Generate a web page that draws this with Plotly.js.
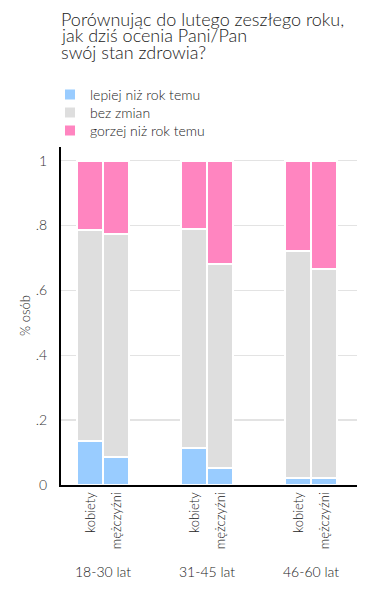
<!DOCTYPE html>
<html>
<head>
<meta charset="utf-8">
<script src="https://cdn.plot.ly/plotly-3.0.1.min.js"></script>
<style>html,body{margin:0;padding:0;background:#fff;}#chart{width:370px;height:591px;}</style>
</head>
<body>
<div id="chart"></div>
<script>
const titleLines = ["Porównując do lutego zeszłego roku,", "jak dziś ocenia Pani/Pan", "swój stan zdrowia?"];
const groups = ["18-30 lat", "31-45 lat", "46-60 lat"];
const sexes = ["kobiety", "mężczyźni"];
const positions = [0, 1, 4, 5, 8, 9];
const groupCenters = [0.5, 4.5, 8.5];
const seriesNames = ["lepiej niż rok temu", "bez zmian", "gorzej niż rok temu"];
const lepiej = [0.135, 0.086, 0.114, 0.052, 0.022, 0.022];
const bezZmian = [0.652, 0.689, 0.675, 0.628, 0.698, 0.645];
const gorzej = [0.213, 0.225, 0.211, 0.320, 0.280, 0.333];
const colors = ["#99ccff", "#dedede", "#ff85c0"];
const yTickVals = [0, 0.2, 0.4, 0.6, 0.8, 1];
const yTickText = ["0", ".2", ".4", ".6", ".8", "1"];
const xTickText = [sexes[0], sexes[1], sexes[0], sexes[1], sexes[0], sexes[1]];
const yTitle = "% osób";

const font = "Lato, 'Open Sans', sans-serif";
const legendIds = ["legend", "legend2", "legend3"];
const legendRowY = [95, 113, 131];

const data = [lepiej, bezZmian, gorzej].map((vals, i) => ({
  type: "bar",
  name: seriesNames[i],
  legend: legendIds[i],
  x: positions,
  y: vals,
  width: 1,
  marker: {color: colors[i], line: {color: "#ffffff", width: 2}},
  hoverinfo: "none"
}));

const layout = {
  width: 370, height: 591,
  barmode: "stack",
  font: {family: font, color: "#333"},
  paper_bgcolor: "#fff", plot_bgcolor: "#fff",
  margin: {l: 61, r: 13, t: 147, b: 106, autoexpand: false},
  showlegend: true,
  xaxis: {
    range: [-1.13, 10.25],
    tickvals: positions, ticktext: xTickText,
    tickangle: -90,
    tickfont: {family: font, size: 13, color: "#222", weight: 300},
    showgrid: false, zeroline: false,
    showline: true, linecolor: "#000", linewidth: 2,
    ticks: "", fixedrange: true, automargin: false
  },
  yaxis: {
    range: [0, 1.042],
    tickvals: yTickVals, ticktext: yTickText,
    tickfont: {family: font, size: 14, color: "#333", weight: 300},
    showgrid: true, gridcolor: "#e3e3e3", gridwidth: 1.5,
    zeroline: false,
    showline: true, linecolor: "#000", linewidth: 2,
    ticks: "", ticklabelstandoff: 9,
    fixedrange: true, automargin: false
  },
  annotations: []
};

legendIds.forEach((id, i) => {
  layout[id] = {
    orientation: "v",
    x: 50/370, xref: "container", xanchor: "left",
    y: 1 - legendRowY[i]/591, yref: "container", yanchor: "middle",
    font: {family: font, size: 14, color: "#222", weight: 300},
    bgcolor: "rgba(0,0,0,0)", borderwidth: 0
  };
});

const titleCenters = [18.7, 35.4, 52.1];
titleLines.forEach((t, i) => {
  layout.annotations.push({
    text: t, xref: "paper", x: 0, xanchor: "left", xshift: -2,
    yref: "paper", y: 1, yanchor: "middle", yshift: 147 - titleCenters[i],
    showarrow: false,
    font: {family: font, size: 18, color: "#222", weight: 300}
  });
});

layout.annotations.push({
  text: yTitle, textangle: -90,
  xref: "paper", x: 0, xanchor: "center", xshift: -36,
  yref: "paper", y: 0.5, yanchor: "middle", yshift: 0,
  showarrow: false,
  font: {family: font, size: 13, color: "#222", weight: 300}
});

groups.forEach((g, i) => {
  layout.annotations.push({
    text: g, x: groupCenters[i], xref: "x",
    y: 0, yref: "paper", yanchor: "middle", yshift: -86,
    showarrow: false,
    font: {family: font, size: 14, color: "#222", weight: 300}
  });
});

Plotly.newPlot("chart", data, layout, {staticPlot: true});
</script>
</body>
</html>
